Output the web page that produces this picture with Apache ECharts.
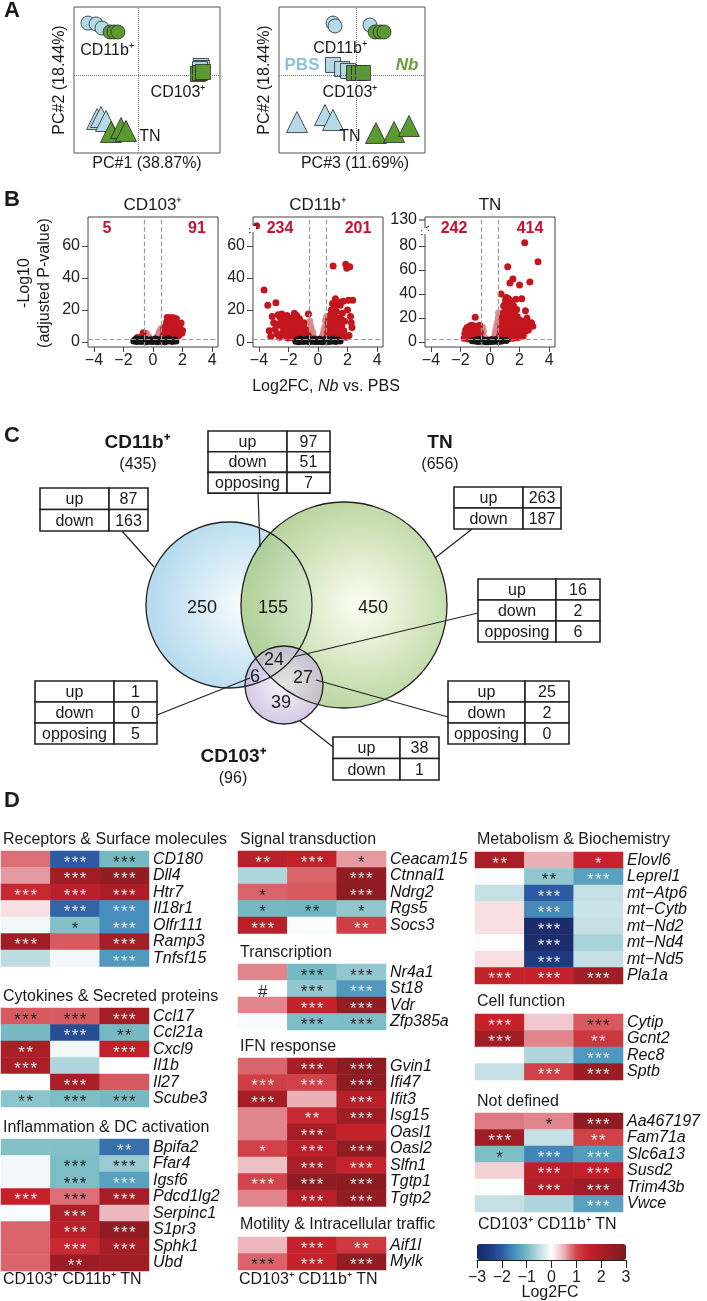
<!DOCTYPE html>
<html><head><meta charset="utf-8">
<script src="https://cdn.jsdelivr.net/npm/echarts@6/dist/echarts.min.js"></script>
<style>html,body{margin:0;padding:0;background:#fff}#c{width:707px;height:1301px}</style>
</head><body><div id="c"></div>
<script>
// ---------------- DATA ----------------
// Panel A: PCA coordinates (PC#1 vs PC#2, PC#3 vs PC#2)
const pc12_PBS_CD11b = [[-34.4,36.0],[-28.9,35.4],[-24.8,32.6]];
const pc12_Nb_CD11b  = [[-19.3,29.9],[-16.6,29.9],[-13.9,29.9]];
const pc12_PBS_CD103 = [[43.0,6.6],[43.7,5.2],[42.3,4.5]];
const pc12_Nb_CD103  = [[40.9,1.1],[42.3,1.8],[44.4,2.5]];
const pc12_PBS_TN    = [[-28.2,-29.7],[-25.5,-28.3],[-22.1,-31.1]];
const pc12_Nb_TN     = [[-18.7,-38.6],[-11.8,-35.9],[-8.4,-37.9]];
const pc32_PBS_CD11b = [[-16.0,36.0],[-14.6,34.0],[9.3,34.7]];
const pc32_Nb_CD11b  = [[12.8,29.9],[16.2,29.9],[18.9,29.9]];
const pc32_PBS_CD103 = [[-16.0,7.3],[-9.8,4.5],[-5.7,3.2]];
const pc32_Nb_CD103  = [[-1.6,1.8],[1.8,1.8],[4.5,1.8]];
const pc32_PBS_TN    = [[-40.7,-31.8],[-21.5,-27.0],[-16.0,-30.4]];
const pc32_Nb_TN     = [[13.4,-39.3],[25.8,-38.6],[36.0,-34.5]];
const pcaAxisTitles = ['PC#1 (38.87%)','PC#3 (11.69%)','PC#2 (18.44%)'];

// Panel B: volcano plots [log2FC, -log10 adj P]
const volcTitles = ['CD103⁺','CD11b⁺','TN'];
const volcDownCounts = [5,234,242];
const volcUpCounts = [91,201,414];
const cd103Sig = [[0.62,2.4],[0.68,3.5],[0.7,5.2],[0.72,8.1],[0.76,2.8],[0.8,4.4],[0.82,6.6],[0.86,10.2],[0.88,3.1],[0.9,7.8],[0.92,12.5],[0.95,5.0],[0.98,2.6],[1.0,9.4],[1.02,14.8],[1.04,6.2],[1.06,3.7],[1.08,11.6],[1.1,8.0],[1.12,15.2],[1.14,4.6],[1.16,13.4],[1.18,2.9],[1.2,6.9],[1.22,10.8],[1.25,15.0],[1.28,3.9],[1.3,8.7],[1.32,12.2],[1.35,5.6],[1.38,15.1],[1.4,2.7],[1.42,9.9],[1.45,7.1],[1.48,13.0],[1.5,4.3],[1.52,10.5],[1.55,6.1],[1.58,14.6],[1.6,3.4],[1.62,8.8],[1.65,5.2],[1.7,11.4],[1.72,7.3],[1.75,4.0],[1.8,9.0],[1.85,6.0],[1.9,11.9],[1.95,5.5],[2.0,7.2],[1.15,2.5],[0.96,15.3],[1.26,12.9],[-0.66,5.8],[-0.7,2.6],[-0.8,3.2],[-0.92,2.3],[-1.05,2.8]];
const cd103Mid = [[-0.55,4.6],[-0.5,3.2],[-0.45,5.4],[-0.4,2.6],[-0.35,3.8],[-0.3,2.3],[-0.2,2.1],[0.2,2.2],[0.28,3.0],[0.35,4.2],[0.4,2.8],[0.45,5.6],[0.5,7.0],[0.52,3.6],[0.55,8.5],[0.57,5.0],[0.48,4.4],[0.42,6.2],[0.3,2.5],[-0.25,2.9]];
const cd103Ns = [[-1.3,0.6],[-1.2,1.2],[-1.1,0.4],[-1.0,1.6],[-0.9,0.9],[-0.8,0.3],[-0.75,1.4],[-0.6,0.7],[-0.5,1.8],[-0.45,0.2],[-0.35,1.1],[-0.25,0.5],[-0.15,1.5],[-0.05,0.3],[0.0,1.0],[0.1,0.6],[0.2,1.7],[0.3,0.2],[0.4,1.2],[0.5,0.5],[0.6,1.5],[0.7,0.8],[0.8,0.2],[0.9,1.3],[1.0,0.6],[1.1,1.8],[1.2,0.9],[1.3,0.4],[1.45,1.2],[1.55,0.7],[-0.65,1.9],[0.15,1.9],[-1.15,1.9],[0.95,1.9]];
const cd11bSig = [[-3.65,32.5],[-3.4,23],[-2.85,24.5],[-4.15,72.5],[-2.7,17],[-2.6,16],[-2.5,14],[-2.45,17.5],[-2.3,13],[-2.2,11],[-2.1,16.5],[-2.0,9],[-1.95,13.5],[-1.9,6],[-1.85,11],[-1.8,15],[-1.75,4],[-1.7,8],[-1.65,12],[-1.6,5.5],[-1.55,9.5],[-1.5,3],[-1.45,7],[-1.4,13.5],[-1.35,4.5],[-1.3,10],[-1.25,6],[-1.2,2.5],[-1.15,8.5],[-1.1,11.5],[-1.05,4],[-1.0,6.5],[-0.95,9],[-0.9,3],[-0.85,5],[-0.8,7.5],[-0.75,2.5],[-0.7,4.5],[-0.65,17.5],[-0.62,3.5],[-2.9,8],[-2.8,5],[-3.0,12],[-3.2,3.5],[-3.3,7],[-2.6,3],[-2.4,6],[-2.2,4],[-2.05,2.5],[-2.35,9],[-2.55,10.5],[-2.75,11],[-3.1,16],[-1.6,18],[-1.25,14.5],[-0.95,12],[-2.15,7.5],[-1.85,2.8],[-1.45,16.5],[0.62,3],[0.65,6],[0.7,9],[0.72,14],[0.75,4],[0.8,11],[0.85,17],[0.88,7],[0.9,20],[0.95,2.5],[1.0,13],[1.02,47.5],[1.05,5],[1.1,16],[1.12,22],[1.15,9],[1.2,3.5],[1.25,19],[1.3,12],[1.35,25],[1.4,6],[1.45,15],[1.5,23],[1.55,4.5],[1.6,10],[1.65,18],[1.7,25.5],[1.75,7],[1.8,13],[1.88,48.5],[1.95,46],[2.0,20],[2.05,26],[2.15,47],[2.2,16],[2.3,9],[2.35,26],[2.1,4],[0.78,2.2],[1.18,27],[0.98,24],[1.4,2.5],[1.9,3],[2.25,12],[0.68,12],[1.08,10.5],[1.58,14],[0.92,5.5],[1.28,8]];
const cd11bMid = [[-0.55,2.5],[-0.5,5],[-0.45,8],[-0.4,4],[-0.35,6],[-0.3,3],[-0.25,2.2],[-0.5,10],[-0.55,13],[0.2,2.2],[0.3,3.5],[0.35,5],[0.4,7],[0.45,9],[0.5,4],[0.55,11],[0.5,13.5],[0.25,2.8],[-0.2,2.1],[0.58,16]];
const cd11bNs = [[-1.5,0.5],[-1.4,1.3],[-1.3,0.2],[-1.2,1.7],[-1.1,0.8],[-1.0,0.3],[-0.9,1.4],[-0.8,0.6],[-0.7,1.9],[-0.6,0.2],[-0.5,1.1],[-0.4,0.5],[-0.3,1.6],[-0.2,0.3],[-0.1,1.0],[0.0,0.4],[0.1,1.8],[0.2,0.7],[0.3,0.2],[0.4,1.3],[0.5,0.6],[0.6,1.6],[0.7,0.3],[0.8,1.1],[0.9,0.5],[1.0,1.7],[1.1,0.9],[1.2,0.3],[1.35,1.2],[1.5,0.6],[-0.85,1.0],[0.25,1.3],[-0.25,1.9]];
const tnSig = [[-1.75,3],[-1.7,7],[-1.65,10],[-1.6,4.5],[-1.55,12],[-1.5,2.5],[-1.45,8],[-1.4,5.5],[-1.35,13.5],[-1.3,3.5],[-1.25,10.5],[-1.2,7],[-1.15,2.8],[-1.1,12],[-1.05,5],[-1.0,20.5],[-0.98,9],[-0.95,3],[-0.9,13],[-0.85,6.5],[-0.8,11],[-0.75,4],[-0.7,14],[-0.65,8],[-0.62,2.5],[-0.7,5.5],[-1.2,14],[-0.9,10],[-1.5,11],[-1.35,6.5],[2.35,82.5],[3.25,66.7],[1.2,62.5],[1.55,52.5],[1.35,49],[2.0,47.5],[2.7,50],[0.75,40],[1.1,37],[1.45,34],[1.75,35.5],[2.15,36],[1.8,27],[2.4,26],[2.5,20],[2.8,16],[2.9,13],[2.6,10],[2.3,12.5],[1.05,35],[0.62,2.5],[0.65,5],[0.7,8],[0.72,12],[0.75,15],[0.78,3.5],[0.8,20],[0.85,6],[0.88,10],[0.9,24],[0.95,2.8],[0.98,14],[1.0,18],[1.02,7],[1.05,28],[1.08,11],[1.1,4],[1.12,22],[1.15,16],[1.18,31],[1.2,9],[1.22,13],[1.25,2.6],[1.28,25],[1.3,6],[1.32,19],[1.35,11],[1.38,29],[1.4,15],[1.42,4],[1.45,22],[1.48,8],[1.5,17],[1.52,26],[1.55,3],[1.58,12],[1.6,20],[1.62,7],[1.65,15],[1.68,24],[1.7,5],[1.72,10],[1.75,18],[1.78,3.5],[1.8,13],[1.85,21],[1.88,8],[1.9,16],[1.95,4],[2.0,11],[2.05,18],[2.1,7],[2.15,14],[2.2,10],[2.25,5],[2.3,17],[2.4,9],[2.45,15],[2.55,13],[2.65,14],[1.0,31],[1.25,36],[0.92,30],[1.6,30],[1.4,33]];
const tnMid = [[-0.55,2.5],[-0.5,6],[-0.45,9],[-0.4,4],[-0.35,3],[-0.5,12],[-0.25,2.2],[0.2,2.2],[0.3,4],[0.35,7],[0.4,10],[0.45,13],[0.5,16],[0.55,20],[0.5,8],[0.45,5],[0.58,24],[0.4,3]];
const tnNs = [[-1.2,1.0],[-1.0,0.8],[-0.9,1.6],[-0.8,0.3],[-0.7,1.2],[-0.6,0.5],[-0.5,1.9],[-0.4,0.9],[-0.3,0.2],[-0.2,1.4],[-0.1,0.6],[0.0,1.7],[0.1,0.3],[0.2,1.1],[0.3,0.5],[0.4,1.8],[0.5,0.8],[0.6,0.3],[0.7,1.4],[0.8,0.7],[1.1,1.2],[-0.55,1.3],[0.15,1.9],[-0.15,0.1],[0.35,1.4],[-0.75,1.9]];
const volcXTicks = [-4,-2,0,2,4];
const volcYTicksA = [0,20,40,60];
const volcYTicksTN = [0,20,40,60,80];
const tnBreakLabel = '130';

// Panel C: Venn counts
const vennRegionLabels = ['250','155','450','24','6','27','39'];
const vennSetTotals = [435,656,96];
const vennSetNames = ['CD11b⁺','TN','CD103⁺'];
const tblCd11bOnly = [['up',87],['down',163]];
const tblCd11bTn = [['up',97],['down',51],['opposing',7]];
const tblTnOnly = [['up',263],['down',187]];
const tblAll3 = [['up',16],['down',2],['opposing',6]];
const tblCd11bCd103 = [['up',1],['down',0],['opposing',5]];
const tblTnCd103 = [['up',25],['down',2],['opposing',0]];
const tblCd103Only = [['up',38],['down',1]];

// Panel D: heatmaps (log2FC for CD103+, CD11b+, TN) and significance
const hmCols = ['CD103⁺','CD11b⁺','TN'];
const recGenes = ['CD180','Dll4','Htr7','Il18r1','Olfr111','Ramp3','Tnfsf15'];
const recFC = [[0.8,-2.0,-1.0],[0.6,2.2,2.5],[1.4,1.7,2.0],[0.2,-1.9,-1.5],[-0.1,-0.9,-1.5],[2.2,0.9,2.1],[-0.5,-0.1,-1.4]];
const recSig = [['','***','***'],['','***','***'],['***','***','***'],['','***','***'],['','*','***'],['***','','***'],['','','***']];
const cytGenes = ['Ccl17','Ccl21a','Cxcl9','Il1b','Il27','Scube3'];
const cytFC = [[0.9,0.9,2.1],[-1.0,-2.2,-1.0],[2.0,-0.1,1.6],[2.0,-0.6,0.0],[0.0,2.0,0.9],[-0.85,-0.95,-1.0]];
const cytSig = [['***','***','***'],['','***','**'],['**','','***'],['***','',''],['','***',''],['**','***','***']];
const infGenes = ['Bpifa2','Ffar4','Igsf6','Pdcd1lg2','Serpinc1','S1pr3','Sphk1','Ubd'];
const infFC = [[-0.9,-0.9,-1.8],[-0.1,-0.95,-0.75],[-0.1,-0.95,-1.3],[1.5,0.8,2.1],[-0.05,1.9,0.45],[0.85,1.7,2.6],[0.85,1.4,2.1],[0.85,2.3,2.2]];
const infSig = [['','','**'],['','***','***'],['','***','***'],['***','***','***'],['','***',''],['','***','***'],['','***','***'],['','**','']];
const sigGenes = ['Ceacam15','Ctnnal1','Ndrg2','Rgs5','Socs3'];
const sigFC = [[1.7,1.6,0.6],[-0.6,0.85,2.5],[0.85,0.9,2.6],[-1.0,-1.05,-0.8],[1.7,-0.05,1.1]];
const sigSig = [['**','***','*'],['','','***'],['*','','***'],['*','**','*'],['***','','**']];
const traGenes = ['Nr4a1','St18','Vdr','Zfp385a'];
const traFC = [[0.7,-1.0,-0.8],[0.0,-0.8,-1.4],[0.7,1.5,2.5],[-0.05,-0.95,-0.95]];
const traSig = [['','***','***'],['#','***','***'],['','***','***'],['','***','***']];
const ifnGenes = ['Gvin1','Ifi47','Ifit3','Isg15','Oasl1','Oasl2','Slfn1','Tgtp1','Tgtp2'];
const ifnFC = [[0.85,2.1,2.6],[1.1,1.05,2.6],[2.1,0.5,1.75],[0.7,1.4,2.2],[0.7,2.1,1.5],[1.05,1.65,2.5],[0.4,2.0,1.45],[1.0,2.6,2.7],[0.7,1.75,2.5]];
const ifnSig = [['','***','***'],['***','***','***'],['***','','***'],['','**','***'],['','***',''],['*','***','***'],['','***','***'],['***','***','***'],['','***','***']];
const motGenes = ['Aif1l','Mylk'];
const motFC = [[0.45,1.5,1.15],[0.85,1.5,2.5]];
const motSig = [['','***','**'],['***','***','***']];
const metGenes = ['Elovl6','Leprel1','mt−Atp6','mt−Cytb','mt−Nd2','mt−Nd4','mt−Nd5','Pla1a'];
const metFC = [[2.0,0.5,1.45],[-0.05,-0.8,-1.3],[-0.45,-2.0,-0.45],[0.2,-1.55,-0.4],[0.2,-2.9,-0.45],[-0.03,-2.85,-0.65],[0.2,-2.5,-0.45],[1.5,1.5,2.2]];
const metSig = [['**','','*'],['','**','***'],['','***',''],['','***',''],['','***',''],['','***',''],['','***',''],['***','***','***']];
const celGenes = ['Cytip','Gcnt2','Rec8','Sptb'];
const celFC = [[1.5,0.35,0.9],[2.2,0.7,1.2],[0.0,-0.6,-1.4],[-0.45,1.05,2.3]];
const celSig = [['***','','***'],['***','','**'],['','','***'],['','***','***']];
const ndfGenes = ['Aa467197','Fam71a','Slc6a13','Susd2','Trim43b','Vwce'];
const ndfFC = [[0.75,0.7,2.5],[2.2,-0.45,1.05],[-0.95,-1.6,-1.35],[0.3,1.7,1.6],[-0.03,1.8,2.2],[-0.45,-0.6,-1.3]];
const ndfSig = [['','*','***'],['***','','**'],['*','***','***'],['','***','***'],['','***','***'],['','','***']];
const colorbarTicks = [-3,-2,-1,0,1,2,3];

// ---------------- BUILD ----------------
const FF = "'Liberation Sans', Arial, Helvetica, sans-serif";
const minus = v => String(v).replace('-', '\u2212');
const grids=[], xAxes=[], yAxes=[], series=[], G=[];
function addGrid(g,x,y){ g.outerBoundsMode='none'; grids.push(g); const i=grids.length-1; x.gridIndex=i; y.gridIndex=i; xAxes.push(x); yAxes.push(y); return i; }
function T(x,y,text,o={}){ return {type:'text', x, y, z:50, rotation:o.rot||0, silent:true,
  style:{text, fontSize:o.fs||16, fontFamily:FF, fontWeight:o.fw||'normal', fontStyle:o.it?'italic':'normal', fill:o.color||'#1a1a1a', align:o.align||'center', verticalAlign:'middle', rich:o.rich}}; }
function L(x1,y1,x2,y2,w){ return {type:'line', z:40, silent:true, shape:{x1,y1,x2,y2}, style:{stroke:'#222', lineWidth:w||1.2}}; }

// Panel A
const cBlue='#b5d9e7', cGreen='#5b9a30';
function pca(left, xr, sets){
  const gi = addGrid({left, top:7, width:146, height:146, show:true, borderColor:'#555', borderWidth:1},
    {type:'value', min:xr[0], max:xr[1], show:false},
    {type:'value', min:-53, max:47, show:false});
  sets.forEach((s,k)=>series.push({type:'scatter', xAxisIndex:gi, yAxisIndex:gi, data:s[0], symbol:s[1], symbolSize:s[2], silent:true,
    itemStyle:{color:s[3], borderColor:'#2a2a2a', borderWidth:0.8, opacity:1},
    markLine: k===0 ? {silent:true, symbol:['none','none'], label:{show:false}, lineStyle:{type:'dotted', color:'#777', width:1}, data:[{xAxis:0},{yAxis:0}]} : undefined}));
}
pca(74, [-44,56], [[pc12_PBS_CD11b,'circle',14,cBlue],[pc12_Nb_CD11b,'circle',14,cGreen],[pc12_PBS_CD103,'rect',15,cBlue],[pc12_Nb_CD103,'rect',15,cGreen],[pc12_PBS_TN,'triangle',21,cBlue],[pc12_Nb_TN,'triangle',21,cGreen]]);
pca(279, [-53,47], [[pc32_PBS_CD11b,'circle',14,cBlue],[pc32_Nb_CD11b,'circle',14,cGreen],[pc32_PBS_CD103,'rect',15,cBlue],[pc32_Nb_CD103,'rect',15,cGreen],[pc32_PBS_TN,'triangle',21,cBlue],[pc32_Nb_TN,'triangle',21,cGreen]]);
G.push(T(4,11,'A',{fs:22,fw:'bold',align:'left'}));
G.push(T(107,51,'CD11b⁺'), T(178,93,'CD103⁺'), T(150,137,'TN'));
G.push(T(147,164,pcaAxisTitles[0]), T(60,80,pcaAxisTitles[2],{rot:Math.PI/2}));
G.push(T(340,49,'CD11b⁺'), T(350,93,'CD103⁺'), T(350,137,'TN'));
G.push(T(302,65,'PBS',{fw:'bold',fs:17,color:'#8cc2de'}), T(407,65,'Nb',{fw:'bold',it:true,fs:17,color:'#67a038'}));
G.push(T(355,164,pcaAxisTitles[1]), T(265,80,pcaAxisTitles[2],{rot:Math.PI/2}));

// Panel B
function volc(left, ymin, ymax, yticks, mid, sig, ns){
  const gi = addGrid({left, top:217, width:130, height:130, show:true, borderColor:'#444', borderWidth:1},
    {type:'value', min:-4.4, max:4.4, axisLine:{show:false, onZero:false}, splitLine:{show:false},
      axisTick:{show:true, length:5, customValues:volcXTicks, lineStyle:{color:'#444'}},
      axisLabel:{customValues:volcXTicks, fontSize:16, fontFamily:FF, color:'#222', margin:6, formatter:minus}},
    {type:'value', min:ymin, max:ymax, axisLine:{show:false, onZero:false}, splitLine:{show:false},
      axisTick:{show:true, length:6, customValues:yticks, lineStyle:{color:'#444'}},
      axisLabel:{customValues:yticks, fontSize:16, fontFamily:FF, color:'#222', margin:8}});
  const base={type:'scatter', xAxisIndex:gi, yAxisIndex:gi, symbolSize:7, silent:true};
  series.push(Object.assign({}, base, {data:mid, itemStyle:{color:'#d98484', opacity:0.9},
    markLine:{silent:true, symbol:['none','none'], label:{show:false}, lineStyle:{type:'dashed', color:'#9a9a9a', width:1.2}, data:[{xAxis:-0.58},{xAxis:0.58},{yAxis:2}]}}));
  series.push(Object.assign({}, base, {data:sig, itemStyle:{color:'#c4161f', opacity:1}}));
  series.push(Object.assign({}, base, {data:ns, itemStyle:{color:'#151515', opacity:1}}));
}
volc(88, -3.1, 78, volcYTicksA, cd103Mid, cd103Sig, cd103Ns);
volc(253, -3.1, 78, volcYTicksA, cd11bMid, cd11bSig, cd11bNs);
volc(425, -4.2, 104, volcYTicksTN, tnMid, tnSig, tnNs);
G.push(T(4,200,'B',{fs:22,fw:'bold',align:'left'}));
G.push(T(153,205,volcTitles[0],{fs:17}), T(318,205,volcTitles[1],{fs:17}), T(490,205,volcTitles[2],{fs:17}));
const redC='#c8102e';
G.push(T(107,229,String(volcDownCounts[0]),{fw:'bold',color:redC}), T(197,229,String(volcUpCounts[0]),{fw:'bold',color:redC}));
G.push(T(280,229,String(volcDownCounts[1]),{fw:'bold',color:redC}), T(358,229,String(volcUpCounts[1]),{fw:'bold',color:redC}));
G.push(T(454,229,String(volcDownCounts[2]),{fw:'bold',color:redC}), T(530,229,String(volcUpCounts[2]),{fw:'bold',color:redC}));
G.push(T(25,283,'-Log10',{rot:Math.PI/2}), T(45,283,'(adjusted P-value)',{rot:Math.PI/2}));
G.push(T(326,387,'{n|Log2FC, }{i|Nb}{n| vs. PBS}',{rich:{n:{fontSize:16,fontFamily:FF,fill:'#1a1a1a'},i:{fontSize:16,fontFamily:FF,fontStyle:'italic',fill:'#1a1a1a'}}}));
G.push(T(417,220,tnBreakLabel,{align:'right'}), L(419,220,425,220,1));
G.push({type:'rect', z:45, silent:true, shape:{x:422,y:228,width:6,height:6}, style:{fill:'#fff'}}, L(421,231,429,226,1), L(421,235,429,230,1));
G.push({type:'rect', z:45, silent:true, shape:{x:250,y:226,width:6,height:6}, style:{fill:'#fff'}}, L(249,229,257,224,1), L(249,233,257,228,1));

// Panel C (Venn)
G.push(T(4,436,'C',{fs:22,fw:'bold',align:'left'}));
const vc = {b:[229,605,83], g:[344,605,103], p:[284,685,39]};
function rad(c0,c1,x){ return {type:'radial', x:x, y:0.5, r:0.55, colorStops:[{offset:0,color:c0},{offset:1,color:c1}]}; }
G.push({type:'circle', z:10, silent:true, shape:{cx:vc.b[0],cy:vc.b[1],r:vc.b[2]}, style:{fill:rad('#fafdff','#b8dcef',0.6)}});
G.push({type:'circle', z:11, silent:true, shape:{cx:vc.g[0],cy:vc.g[1],r:vc.g[2]}, style:{fill:rad('#fefef0','#a7ca86',0.58), opacity:0.82}});
G.push({type:'circle', z:12, silent:true, shape:{cx:vc.p[0],cy:vc.p[1],r:vc.p[2]}, style:{fill:rad('#f4eff8','#bfaed8',0.5), opacity:0.72}});
['b','g','p'].forEach(k=>G.push({type:'circle', z:20, silent:true, shape:{cx:vc[k][0],cy:vc[k][1],r:vc[k][2]}, style:{fill:null, stroke:'#222', lineWidth:1.3}}));
const vennLabelPos = [[202,608],[273,608],[373,608],[274,660],[255,677],[303,678],[281,703]];
vennRegionLabels.forEach((t,i)=>G.push(T(vennLabelPos[i][0],vennLabelPos[i][1],t,{fs:18})));
G.push(T(137,443,vennSetNames[0],{fs:19,fw:'bold'}), T(138,465,'('+vennSetTotals[0]+')',{fs:16}));
G.push(T(440,443,vennSetNames[1],{fs:19,fw:'bold'}), T(440,465,'('+vennSetTotals[1]+')',{fs:16}));
G.push(T(233,757,vennSetNames[2],{fs:19,fw:'bold'}), T(233,779,'('+vennSetTotals[2]+')',{fs:16}));
function table(x,y,w1,w2,h,rows){
  rows.forEach((r,i)=>{
    const yy=y+i*h;
    G.push({type:'rect', z:30, silent:true, shape:{x,y:yy,width:w1,height:h}, style:{fill:'#fff', stroke:'#222', lineWidth:1.6}});
    G.push({type:'rect', z:30, silent:true, shape:{x:x+w1,y:yy,width:w2,height:h}, style:{fill:'#fff', stroke:'#222', lineWidth:1.6}});
    G.push(T(x+w1/2, yy+h/2+1, r[0]), T(x+w1+w2/2, yy+h/2+1, String(r[1])));
  });
}
G.push(L(258,493,260,547), L(122,531,154,567), L(157,715,250,678), L(472,529,435,558), L(478,613,293,657), L(448,717,316,680), L(300,721,333,747));
table(208,431,79,43,20.7,tblCd11bTn);
table(40,488,69,39,21.5,tblCd11bOnly);
table(35,681,79,43,21,tblCd11bCd103);
table(454,487,69,38,21,tblTnOnly);
table(478,579,78,44,21,tblAll3);
table(448,681,77,44,21,tblTnCd103);
table(333,737,67,39,21.5,tblCd103Only);

// Panel D (heatmaps)
G.push(T(4,801,'D',{fs:22,fw:'bold',align:'left'}));
const RH=16.5, heatIdx=[];
const starColor = v => (v>=0.95 || v<=-1.25) ? '#e6e6e6' : '#262626';
function heat(left, top, title, titleY, genes, fc, sig){
  const gi = addGrid({left, top, width:148, height:genes.length*RH, show:false},
    {type:'category', data:hmCols, show:false},
    {type:'category', data:genes, inverse:true, position:'right', axisLine:{show:false}, axisTick:{show:false}, splitLine:{show:false},
      axisLabel:{interval:0, fontSize:16, fontFamily:FF, fontStyle:'italic', color:'#111', margin:4}});
  const data=[];
  fc.forEach((row,r)=>row.forEach((v,c)=>data.push({value:[c,r,v], label:{color:starColor(v)}})));
  heatIdx.push(series.length);
  series.push({type:'heatmap', xAxisIndex:gi, yAxisIndex:gi, data, silent:true, emphasis:{disabled:true}, itemStyle:{borderWidth:0},
    label:{show:true, fontSize:17, fontFamily:FF, offset:[0,4], formatter:p=>sig[p.value[1]][p.value[0]].split('').join('\u200a')}});
  G.push(T(left+2, titleY, title, {align:'left'}));
}
heat(1, 851, 'Receptors & Surface molecules', 840, recGenes, recFC, recSig);
heat(1, 1008, 'Cytokines & Secreted proteins', 997, cytGenes, cytFC, cytSig);
heat(1, 1139, 'Inflammation & DC activation', 1128, infGenes, infFC, infSig);
heat(238, 851, 'Signal transduction', 840, sigGenes, sigFC, sigSig);
heat(238, 964, 'Transcription', 953, traGenes, traFC, traSig);
heat(238, 1058, 'IFN response', 1047, ifnGenes, ifnFC, ifnSig);
heat(238, 1237, 'Motility & Intracellular traffic', 1225, motGenes, motFC, motSig);
heat(475, 852, 'Metabolism & Biochemistry', 840, metGenes, metFC, metSig);
heat(475, 1014, 'Cell function', 1002, celGenes, celFC, celSig);
heat(475, 1113, 'Not defined', 1102, ndfGenes, ndfFC, ndfSig);
const colLabel = hmCols.join(' ');
G.push(T(3,1280,colLabel,{align:'left'}), T(239,1280,colLabel,{align:'left'}), T(478,1225,colLabel,{align:'left'}));

// colorbar tick axis
const cbi = addGrid({left:477, top:1244, width:149, height:16, show:false},
  {type:'value', min:colorbarTicks[0], max:colorbarTicks[colorbarTicks.length-1], interval:1, position:'bottom',
   axisLine:{show:true, onZero:false, lineStyle:{color:'#222'}}, axisTick:{show:true, length:8, lineStyle:{color:'#222'}},
   axisLabel:{fontSize:16, fontFamily:FF, color:'#222', margin:10, formatter:minus}, splitLine:{show:false}},
  {type:'value', min:0, max:1, show:false});
series.push({type:'scatter', xAxisIndex:cbi, yAxisIndex:cbi, data:[], silent:true});
G.push(T(550,1293,'Log2FC'));

const chart = echarts.init(document.getElementById('c'), null, {renderer:'canvas'});
chart.setOption({
  animation:false, backgroundColor:'#fff',
  grid:grids, xAxis:xAxes, yAxis:yAxes, series,
  visualMap:{type:'continuous', min:-3, max:3, seriesIndex:heatIdx, dimension:2, orient:'horizontal', left:477, top:1244,
    itemWidth:16, itemHeight:149, padding:0, calculable:false, text:null, hoverLink:false, realtime:false, show:true,
    inRange:{color:['#1a2766','#1f3a80','#2c5aa3','#4790bd','#76b9c2','#bddde2','#ffffff','#eab0b7','#d2444b','#c4212b','#aa1e27','#921c23','#7d1a1f']}},
  graphic:G
});
</script></body></html>
